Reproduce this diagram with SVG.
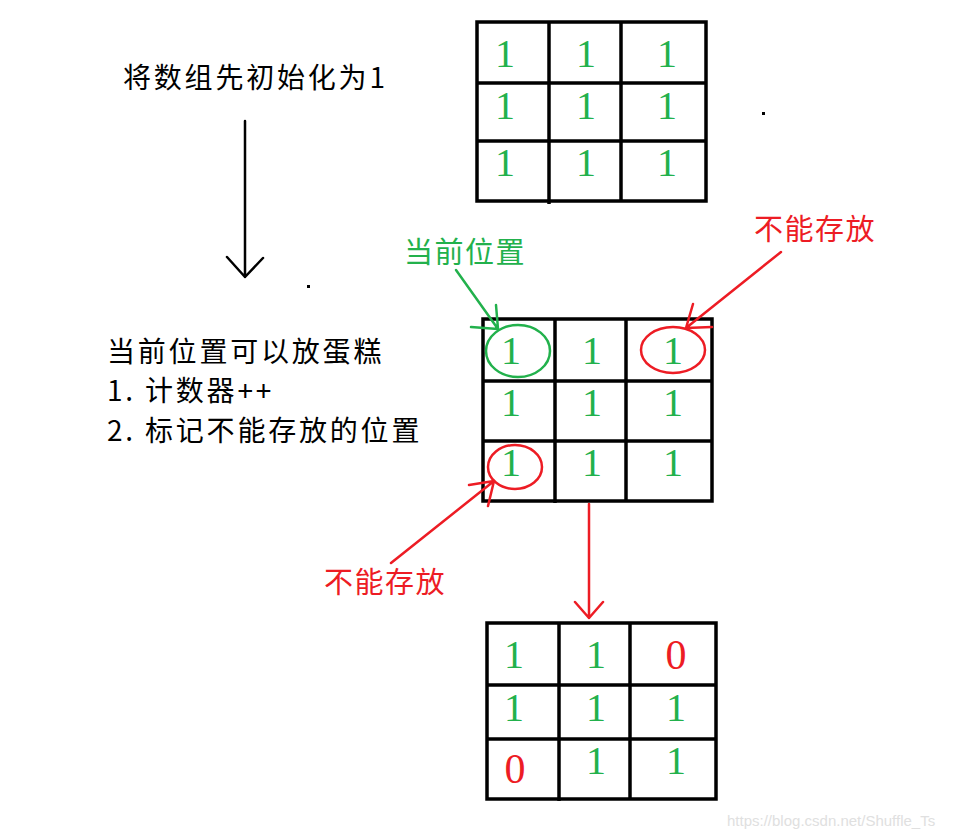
<svg xmlns="http://www.w3.org/2000/svg" width="957" height="839" viewBox="0 0 957 839">
<style>
.grid{fill:none;stroke:#000;stroke-width:3.5}
.gl{stroke:#000;stroke-width:3.5}
.d{font-family:"Liberation Serif","Noto Sans CJK SC",serif;font-size:40px;text-anchor:middle}
.g{fill:#22b14c}
.r{fill:#ed1c24}
.t{font-family:"Noto Sans CJK SC","Liberation Serif",serif;font-size:28px;fill:#000;letter-spacing:2.8px}
.lbl{font-family:"Noto Sans CJK SC",sans-serif;font-size:29px;letter-spacing:1.5px}
.ln{fill:none;stroke-width:2.5;stroke-linecap:round;stroke-linejoin:round}
</style>
<rect width="957" height="839" fill="#fff"/>
<g id="title"><text class="t" x="123" y="88">将数组先初始化为1</text></g>
<g id="grid1">
<rect class="grid" x="477" y="22" width="229" height="179"/>
<line class="gl" x1="549" y1="22" x2="549" y2="204"/>
<line class="gl" x1="621" y1="22" x2="621" y2="201"/>
<line class="gl" x1="477" y1="83" x2="706" y2="83"/>
<line class="gl" x1="477" y1="141" x2="706" y2="141"/>
<g class="d g">
<text x="505" y="67">1</text><text x="586" y="67">1</text><text x="667" y="67">1</text>
<text x="505" y="119">1</text><text x="586" y="119">1</text><text x="667" y="119">1</text>
<text x="505" y="176">1</text><text x="586" y="176">1</text><text x="667" y="176">1</text>
</g>
</g>
<g id="desc" class="t">
<text x="107" y="362">当前位置可以放蛋糕</text>
<text x="107" y="401">1. 计数器++</text>
<text x="107" y="441">2. 标记不能存放的位置</text>
</g>
<g id="grid2">
<rect class="grid" x="483" y="319" width="229" height="182"/>
<line class="gl" x1="555" y1="319" x2="555" y2="503"/>
<line class="gl" x1="626" y1="319" x2="626" y2="501"/>
<line class="gl" x1="483" y1="381" x2="712" y2="381"/>
<line class="gl" x1="483" y1="441" x2="712" y2="441"/>
<g class="d g">
<text x="511" y="364">1</text><text x="592" y="364">1</text><text x="673" y="364">1</text>
<text x="511" y="416">1</text><text x="592" y="416">1</text><text x="673" y="416">1</text>
<text x="511" y="476">1</text><text x="592" y="476">1</text><text x="673" y="476">1</text>
</g>
<ellipse cx="518" cy="351" rx="32" ry="26" fill="none" stroke="#22b14c" stroke-width="2.5"/>
<ellipse cx="673" cy="350" rx="32" ry="23" fill="none" stroke="#ed1c24" stroke-width="2.5"/>
<ellipse cx="515" cy="467" rx="27" ry="22" fill="none" stroke="#ed1c24" stroke-width="2.5"/>
</g>
<g id="label-current"><text class="lbl g" x="404" y="263">当前位置</text></g>
<g id="label-no1"><text class="lbl r" x="754" y="240">不能存放</text></g>
<g id="label-no2"><text class="lbl r" x="324" y="593">不能存放</text></g>
<g id="grid3">
<rect class="grid" x="487" y="623" width="229" height="176"/>
<line class="gl" x1="559" y1="623" x2="559" y2="801"/>
<line class="gl" x1="630" y1="623" x2="630" y2="799"/>
<line class="gl" x1="487" y1="685" x2="716" y2="685"/>
<line class="gl" x1="487" y1="739" x2="716" y2="739"/>
<g class="d">
<text class="g" x="514" y="668">1</text><text class="g" x="596" y="668">1</text><text class="r" x="676" y="669" font-size="42">0</text>
<text class="g" x="514" y="721">1</text><text class="g" x="596" y="721">1</text><text class="g" x="676" y="721">1</text>
<text class="r" x="515" y="783" font-size="42">0</text><text class="g" x="596" y="774">1</text><text class="g" x="676" y="774">1</text>
</g>
</g>
<g id="connectors">
<path class="ln" stroke="#000" d="M245 121 L245 277 M227 257 L245 277 L263 258"/>
<path class="ln" stroke="#22b14c" d="M456 270 L498 329 M496 305 L498 329 L471 327"/>
<path class="ln" stroke="#ed1c24" d="M781 252 L686 328 M693 304 L686 328 L712 327"/>
<path class="ln" stroke="#ed1c24" d="M391 563 L494 481 M469 485 L494 481 L488 506"/>
<path class="ln" stroke="#ed1c24" d="M589 504 L589 618 M575 602 L589 618 L603 602"/>
</g>
<rect x="307" y="285" width="3" height="3" fill="#000"/>
<rect x="762" y="112" width="3" height="3" fill="#000"/>
<text x="727" y="826" font-family="Liberation Sans,sans-serif" font-size="15" fill="#e0e0e0">https://blog.csdn.net/Shuffle_Ts</text>
</svg>
